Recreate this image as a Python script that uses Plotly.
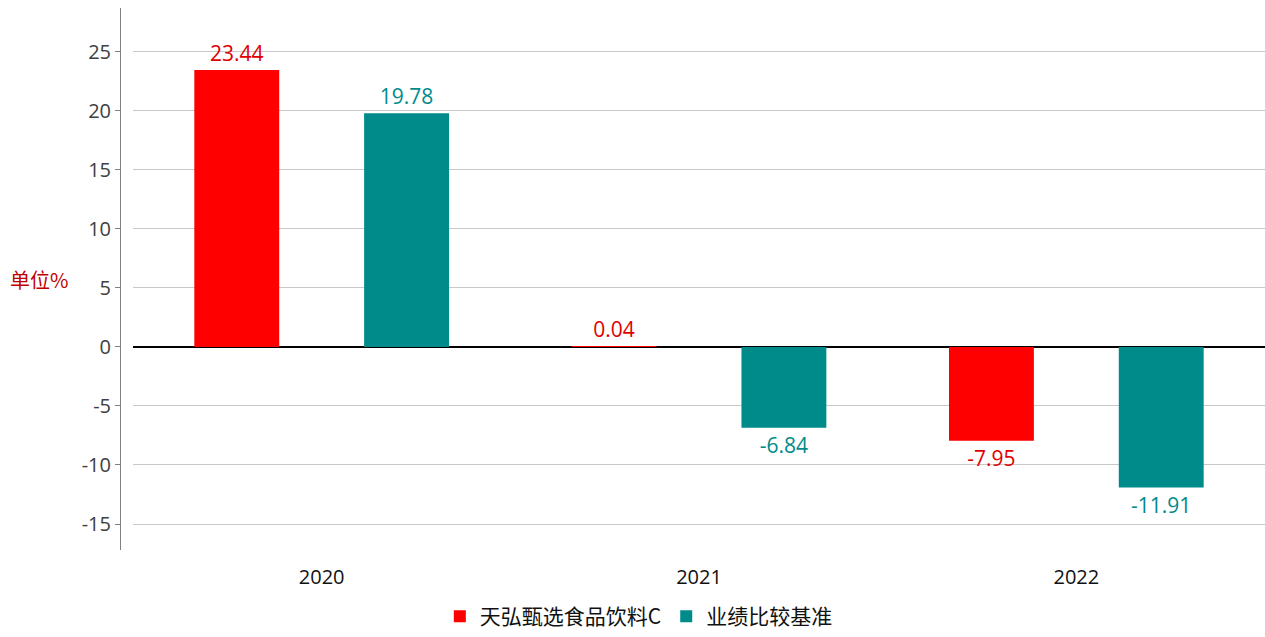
import plotly.graph_objects as go

years = ["2020", "2021", "2022"]
fund_name = "天弘甄选食品饮料C"
bench_name = "业绩比较基准"
fund_values = [23.44, 0.04, -7.95]
bench_values = [19.78, -6.84, -11.91]
y_ticks = [-15, -10, -5, 0, 5, 10, 15, 20, 25]
y_tick_text = ["-15", "-10", "-5", "0", "5", "10", "15", "20", "25"]

RED = "#FF0000"
TEAL = "#008B8B"
FONT = "Open Sans, Noto Sans CJK SC"

fig = go.Figure()
fig.add_trace(go.Bar(
    x=years, y=fund_values, name=fund_name,
    marker=dict(color=RED, line=dict(width=0)),
    text=[f"{v:.2f}" for v in fund_values], textposition="outside",
    textfont=dict(color="#E00000", size=21, family=FONT),
    cliponaxis=False,
))
fig.add_trace(go.Bar(
    x=years, y=bench_values, name=bench_name,
    marker=dict(color=TEAL, line=dict(width=0)),
    text=[f"{v:.2f}" for v in bench_values], textposition="outside",
    textfont=dict(color=TEAL, size=21, family=FONT),
    cliponaxis=False,
))

L = 120
W = 1265
fig.update_layout(
    width=W, height=637,
    margin=dict(l=L, r=0, t=8, b=87),
    paper_bgcolor="white", plot_bgcolor="white",
    barmode="group", bargap=0.1, bargroupgap=0.5,
    font=dict(family=FONT, size=18, color="#404040"),
    showlegend=True,
    legend=dict(orientation="h", xref="container", x=0.505, xanchor="center",
                yref="container", y=0.0, yanchor="bottom",
                font=dict(size=21, color="#111111", family="Noto Sans CJK SC"),
                itemwidth=30, traceorder="normal"),
    xaxis=dict(domain=[13 / (W - L), 1], showgrid=False, showline=False,
               ticks="", tickfont=dict(size=20, color="#111111"),
               ticklabelstandoff=13),
    yaxis=dict(range=[-17.2, 28.7], tickvals=y_ticks, ticktext=y_tick_text,
               anchor="free", position=0,
               showgrid=True, gridcolor="#C8C8C8", gridwidth=1,
               zeroline=True, zerolinecolor="#000000", zerolinewidth=2,
               showline=True, linecolor="#808080", linewidth=1,
               ticks="outside", ticklen=5, tickcolor="#808080",
               tickfont=dict(size=20, color="#404040")),
    annotations=[dict(text="单位%", xref="paper", yref="y", x=-L / (W - L) + 8 / (W - L),
                      xanchor="left", y=5.7, showarrow=False,
                      font=dict(size=20, color="#C00000", family="Noto Sans CJK SC"))],
)

fig.write_html("out.html", config={"displayModeBar": False},
               post_script="document.body.style.margin='0';")
